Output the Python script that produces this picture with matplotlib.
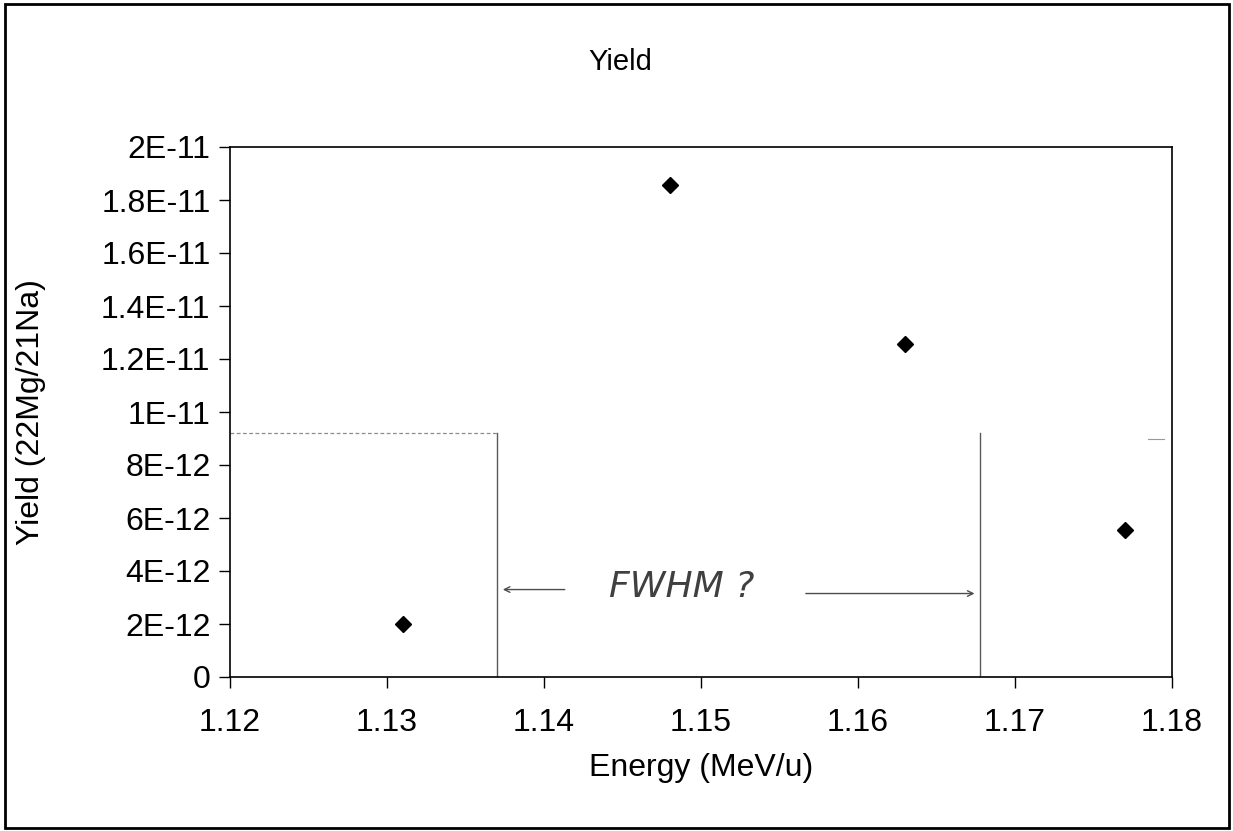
import matplotlib.pyplot as plt
from matplotlib.patches import Rectangle

plt.rcParams['font.family'] = ['Liberation Sans', 'DejaVu Sans']

energy = [1.131, 1.148, 1.163, 1.177]              # MeV/u
yield_ratio = [2.0e-12, 1.855e-11, 1.255e-11, 5.55e-12]

x_ticks = [1.12, 1.13, 1.14, 1.15, 1.16, 1.17, 1.18]
y_ticks = [0, 2e-12, 4e-12, 6e-12, 8e-12, 1e-11, 1.2e-11, 1.4e-11, 1.6e-11, 1.8e-11, 2e-11]
y_labels = ['0', '2E-12', '4E-12', '6E-12', '8E-12', '1E-11',
            '1.2E-11', '1.4E-11', '1.6E-11', '1.8E-11', '2E-11']

# hand drawn FWHM guide lines
half_max = 9.2e-12
fwhm_left = 1.137
fwhm_right = 1.1678

fig = plt.figure(figsize=(12.33, 8.31), dpi=100)
ax = fig.add_axes([230 / 1233, 1 - 677 / 831, 942 / 1233, 530 / 831])

ax.plot(energy, yield_ratio, 'D', color='black', markersize=8.5, zorder=3)

# pencil marks
ax.plot([1.12, fwhm_left], [half_max, half_max], color='0.55', lw=0.9, ls=(0, (3, 2)))
ax.plot([fwhm_left, fwhm_left], [0, half_max], color='0.35', lw=1.0)
ax.plot([fwhm_right, fwhm_right], [0, half_max], color='0.35', lw=1.0)
ax.plot([1.1785, 1.1795], [9.0e-12, 9.0e-12], color='0.6', lw=0.8)
ax.annotate('', xy=(fwhm_left + 0.0002, 3.3e-12), xytext=(1.1415, 3.3e-12),
            arrowprops=dict(arrowstyle='->', color='0.3', lw=1.0))
ax.annotate('', xy=(fwhm_right - 0.0002, 3.15e-12), xytext=(1.1565, 3.15e-12),
            arrowprops=dict(arrowstyle='->', color='0.3', lw=1.0))
ax.text(1.1488, 3.4e-12, 'FWHM ?', fontsize=26, style='italic', color='0.25',
        ha='center', va='center', family=['DejaVu Sans'], fontweight='light')

ax.set_xlim(1.12, 1.18)
ax.set_ylim(0, 2e-11)
ax.set_xticks(x_ticks)
ax.set_xticklabels(['%.2f' % t for t in x_ticks])
ax.set_yticks(y_ticks)
ax.set_yticklabels(y_labels)
ax.tick_params(direction='out', length=8, width=1.0, labelsize=23, pad=14)
ax.tick_params(axis='y', pad=6)
for s in ax.spines.values():
    s.set_linewidth(1.2)

ax.set_xlabel('Energy (MeV/u)', fontsize=23, labelpad=11)
ax.set_ylabel('Yield (22Mg/21Na)', fontsize=23, labelpad=40)
fig.text(620 / 1233, 1 - 62 / 831, 'Yield', fontsize=21, ha='center', va='center')

# outer chart border
fig.patches.append(Rectangle((5 / 1233, 3 / 831), 1224 / 1233, 824 / 831,
                             transform=fig.transFigure, fill=False,
                             edgecolor='black', lw=2))

fig.savefig('out.png', dpi=100)
